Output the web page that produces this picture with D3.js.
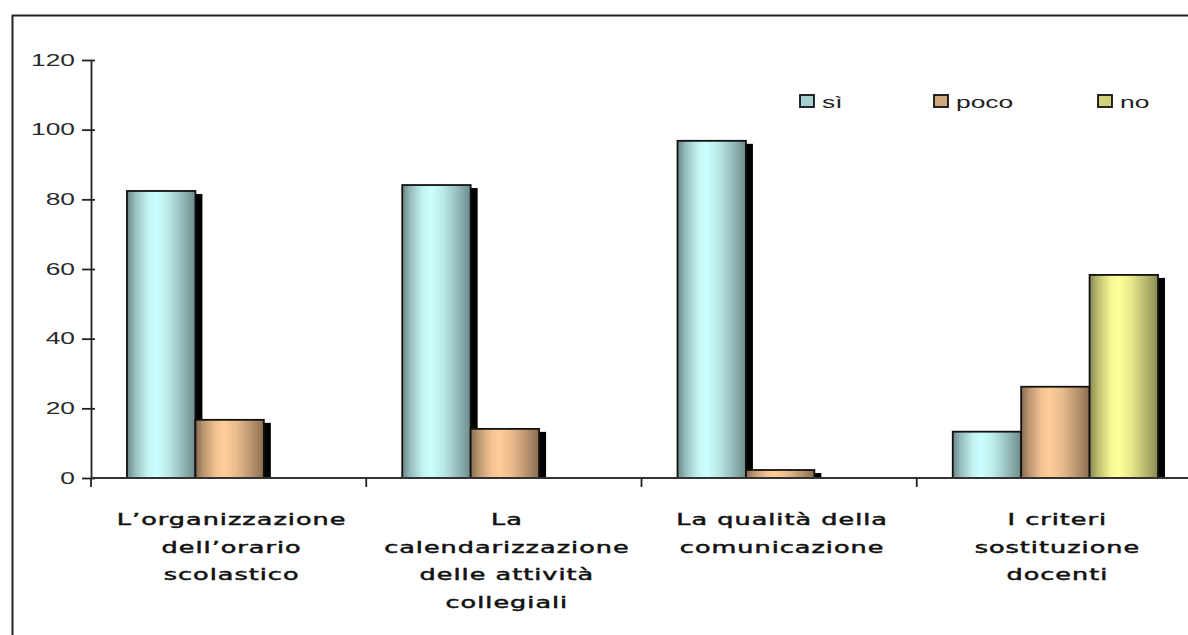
<!DOCTYPE html>
<html><head><meta charset="utf-8">
<script src="https://cdn.jsdelivr.net/npm/d3@7"></script>
<style>html,body{margin:0;padding:0;background:#fff;overflow:hidden}</style>
</head><body><svg id="c" width="1188" height="635"></svg>
<script>
// ---- data ----
const categories = [
  ["L’organizzazione", "dell’orario", "scolastico"],
  ["La", "calendarizzazione", "delle attività", "collegiali"],
  ["La qualità della", "comunicazione"],
  ["I criteri", "sostituzione", "docenti"]
];
const seriesNames = ["sì", "poco", "no"];
const siValues   = [82.4, 84.1, 96.8, 13.3];
const pocoValues = [16.7, 14.1, 2.3, 26.2];
const noValues   = [0, 0, 0, 58.3];
const yTicks = [0, 20, 40, 60, 80, 100, 120];

// ---- layout / style ----
const svg = d3.select("#c");
const baseColors = ["#ccffff", "#ffcc99", "#ffff99"];
const SX = 1.65; // horizontal text stretch
const series = [siValues, pocoValues, noValues];
const catKeys = categories.map((c, i) => "c" + i);

const x0 = d3.scaleBand().domain(catKeys).range([91, 1192]).padding(0);
const x1 = d3.scaleBand().domain(seriesNames).range([36, x0.bandwidth() - 34]).padding(0);
const y = d3.scaleLinear().domain([0, 120]).range([478, 60]);

// frame
svg.append("line").attr("x1", 12.5).attr("x2", 12.5).attr("y1", 15).attr("y2", 640)
  .attr("stroke", "#222").attr("stroke-width", 2);
svg.append("line").attr("x1", 12).attr("x2", 1190).attr("y1", 15.5).attr("y2", 15.5)
  .attr("stroke", "#222").attr("stroke-width", 2);

// gradients
const defs = svg.append("defs");
const profile = [[0, 0], [0.12, 0.45], [0.3, 0.9], [0.42, 1], [0.6, 0.82], [0.8, 0.45], [1, 0.03]];
baseColors.forEach((c, i) => {
  const dark = d3.color(c).darker(1.8);
  const interp = d3.interpolateRgb(dark, c);
  const g = defs.append("linearGradient").attr("id", "g" + i)
    .attr("x1", "0").attr("x2", "1").attr("y1", "0").attr("y2", "0");
  profile.forEach(([o, t]) => g.append("stop").attr("offset", o).attr("stop-color", interp(t)));
});

// bars data
const barData = [];
series.forEach((vals, si) => vals.forEach((v, ci) => {
  if (v > 0) barData.push({ si, ci, v });
}));
const bx = d => x0(catKeys[d.ci]) + x1(seriesNames[d.si]);

// shadows
svg.append("g").selectAll("rect").data(barData).join("rect")
  .attr("x", d => bx(d) + 7)
  .attr("y", d => y(d.v) + 3)
  .attr("width", x1.bandwidth())
  .attr("height", d => y(0) - y(d.v) - 3)
  .attr("fill", "#000");

// bars
svg.append("g").selectAll("rect").data(barData).join("rect")
  .attr("x", d => bx(d))
  .attr("y", d => y(d.v))
  .attr("width", x1.bandwidth())
  .attr("height", d => y(0) - y(d.v))
  .attr("fill", d => `url(#g${d.si})`)
  .attr("stroke", "#111").attr("stroke-width", 1.8);

// y axis
const yAxis = d3.axisLeft(y).tickValues(yTicks).tickSize(9).tickSizeOuter(0);
const gy = svg.append("g").attr("transform", "translate(91,0)").call(yAxis);
gy.select(".domain").attr("stroke", "#222").attr("stroke-width", 1.8);
gy.selectAll(".tick line").attr("x1", 4).attr("stroke", "#222").attr("stroke-width", 1.8);
gy.selectAll(".tick text")
  .attr("x", 0)
  .attr("transform", `translate(-16,0) scale(${SX},1)`)
  .attr("font-family", "Liberation Sans, Arial, sans-serif")
  .attr("font-size", 16).attr("fill", "#2a2a2a");

// x axis
const xr = x0.range();
const gx = svg.append("g");
gx.append("line").attr("x1", xr[0]).attr("x2", xr[1]).attr("y1", y(0)).attr("y2", y(0))
  .attr("stroke", "#333").attr("stroke-width", 1.8);
const bounds = catKeys.map(k => x0(k)).concat([xr[1]]);
gx.selectAll("line.t").data(bounds).join("line").attr("class", "t")
  .attr("x1", d => d).attr("x2", d => d).attr("y1", y(0)).attr("y2", y(0) + 9)
  .attr("stroke", "#222").attr("stroke-width", 1.8);

// category labels
categories.forEach((lines, i) => {
  const cx = x0(catKeys[i]) + x0.bandwidth() / 2 + 3;
  lines.forEach((ln, j) => {
    svg.append("text")
      .attr("transform", `translate(${cx},${525 + j * 27.5}) scale(1.7,1)`)
      .attr("text-anchor", "middle")
      .attr("font-family", "DejaVu Sans, sans-serif")
      .attr("font-size", 15).attr("letter-spacing", 0.6)
      .attr("fill", "#111").attr("stroke", "#111").attr("stroke-width", 0.45)
      .text(ln);
  });
});

// legend
const legendX = [800, 934, 1098];
seriesNames.forEach((n, i) => {
  const c = d3.interpolateRgb(d3.color(baseColors[i]).darker(1.8), baseColors[i])(0.62);
  svg.append("rect").attr("x", legendX[i]).attr("y", 95).attr("width", 14).attr("height", 12)
    .attr("fill", c).attr("stroke", "#111").attr("stroke-width", 1.8);
  svg.append("text")
    .attr("transform", `translate(${legendX[i] + 22},107.5) scale(${SX},1)`)
    .attr("font-family", "Liberation Sans, Arial, sans-serif")
    .attr("font-size", 16).attr("fill", "#222")
    .text(n);
});
</script>
</body></html>
